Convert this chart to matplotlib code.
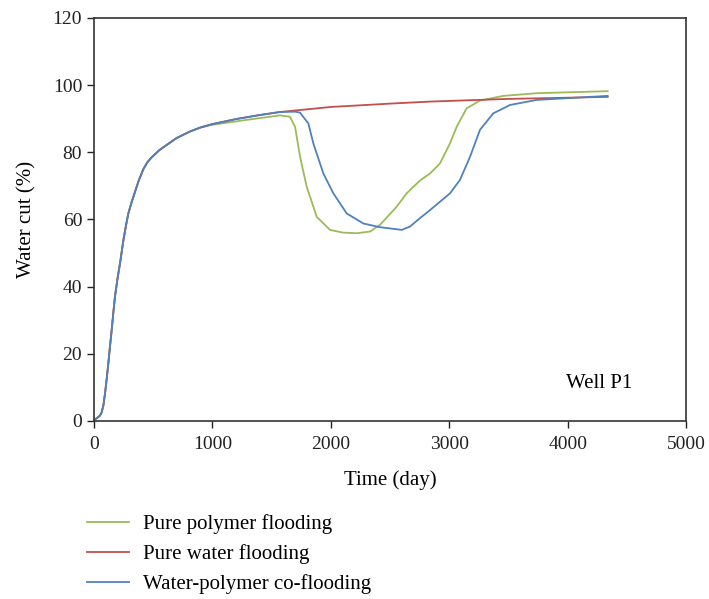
import matplotlib.pyplot as plt

plt.rcParams['font.family'] = ['Liberation Serif', 'DejaVu Serif']

# values
t_water = [0, 8, 30, 50, 65, 80, 93, 107, 121, 135, 149, 163, 177, 198, 220, 248, 270, 290,
           318, 346, 380, 417, 450, 487, 550, 614, 700, 811, 900, 1000,
           1200, 1400, 1571, 2000, 2500, 2838, 3500, 4338]
wc_water = [0, 0.5, 1.0, 1.6, 2.6, 4.8, 8.2, 12.5, 17.2, 22.2, 27, 32.2, 37, 42.3, 47, 53.8, 58.2, 61.8,
            65.2, 68.2, 71.8, 75, 77, 78.5, 80.6, 82.2, 84.3, 86.2, 87.4, 88.4,
            89.9, 91.1, 92.0, 93.5, 94.5, 95.1, 95.9, 96.5]

t_polymer = t_water[:30] + [1300, 1571, 1655, 1698, 1740, 1796, 1881, 1993, 2100, 2219,
                            2331, 2416, 2556, 2641, 2753, 2838, 2922, 3007, 3063, 3147,
                            3260, 3457, 3739, 4338]
wc_polymer = wc_water[:29] + [88.2, 89.7, 91.0, 90.6, 87.6, 78.7, 69.8, 60.8, 56.9, 56.1, 55.9,
                              56.4, 58.4, 63.8, 67.8, 71.6, 73.7, 76.7, 82.7, 87.6, 93.1,
                              95.4, 96.8, 97.6, 98.2]

t_co = t_water[:33] + [1700, 1740, 1810, 1852, 1937, 2021, 2134, 2275, 2416, 2599, 2669,
                       2753, 2838, 3007, 3091, 3176, 3260, 3372, 3514, 3739, 4338]
wc_co = wc_water[:33] + [92.1, 91.8, 88.6, 82.7, 73.7, 67.8, 61.8, 58.8, 57.7, 56.9, 57.9,
                         60.4, 62.8, 67.8, 71.8, 78.7, 86.7, 91.6, 94.1, 95.6, 96.8]

labels = ['Pure polymer flooding', 'Pure water flooding', 'Water-polymer co-flooding']

fig = plt.figure(figsize=(7.09, 5.99), dpi=100)
ax = fig.add_axes([0.1326, 0.2972, 0.835, 0.6728])

l1, = ax.plot(t_polymer, wc_polymer, color='#9BBB59', lw=1.3)
l2, = ax.plot(t_water, wc_water, color='#C0504D', lw=1.3)
l3, = ax.plot(t_co, wc_co, color='#4F81BD', lw=1.3)

ax.set_xlim(0, 5000)
ax.set_ylim(0, 120)
ax.set_xticks(range(0, 5001, 1000))
ax.set_yticks(range(0, 121, 20))
ax.tick_params(labelsize=14, length=5, width=1, direction='out', colors='#222222')
ax.tick_params(axis='x', pad=6)
for s in ax.spines.values():
    s.set_linewidth(1.2)
    s.set_color('#333333')

ax.set_xlabel('Time (day)', fontsize=15, labelpad=12)
ax.set_ylabel('Water cut (%)', fontsize=15, labelpad=12)
ax.text(4270, 11.3, 'Well P1', fontsize=15, ha='center', va='center')

fig.legend([l1, l2, l3], labels, loc='upper left', bbox_to_anchor=(0.123, 0.142),
           frameon=False, fontsize=15, handlelength=2.0, handletextpad=0.7,
           labelspacing=0.5, borderaxespad=0, borderpad=0)

fig.savefig('out.png', dpi=100)
